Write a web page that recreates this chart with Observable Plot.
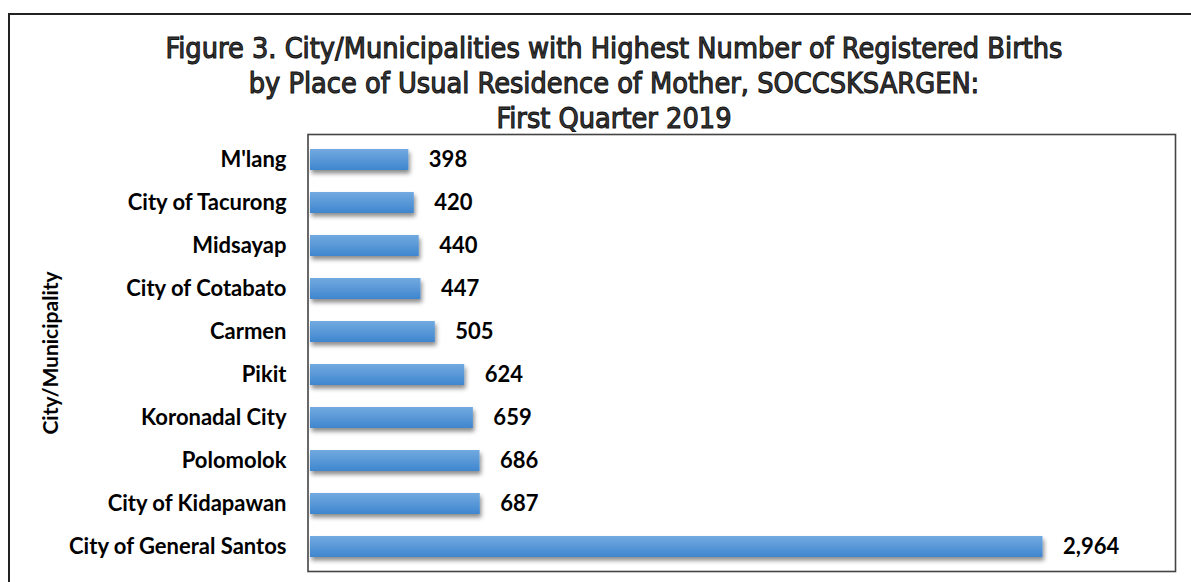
<!DOCTYPE html>
<html>
<head>
<meta charset="utf-8">
<script src="https://cdn.jsdelivr.net/npm/d3@7"></script>
<script src="https://cdn.jsdelivr.net/npm/@observablehq/plot@0.6"></script>
<style>
  html, body { margin: 0; padding: 0; background: #fff; overflow: hidden; }
  #wrap { position: relative; width: 1191px; height: 582px; overflow: hidden; background: #fff; }
  #outer { position: absolute; left: 8px; top: 13px; width: 1400px; height: 800px; border-left: 2px solid #222; border-top: 2px solid #222; box-sizing: border-box; }
  #title { position: relative; height: 128px; width: 1191px; box-sizing: border-box; padding-top: 31px; padding-left: 37px;
    font-family: "DejaVu Sans Condensed", "DejaVu Sans", sans-serif; font-size: 28.6px; line-height: 35px; text-align: center;
    color: #3a3a3a; -webkit-text-stroke: 1px #111; white-space: nowrap; }
  #chart { position: relative; }
</style>
</head>
<body>
<div id="wrap">
  <div id="outer"></div>
  <div id="title">Figure 3. City/Municipalities with Highest Number of Registered Births<br>by Place of Usual Residence of Mother, SOCCSKSARGEN:<br>First Quarter 2019</div>
  <div id="chart"></div>
</div>
<script>
const places = ["M'lang", "City of Tacurong", "Midsayap", "City of Cotabato", "Carmen", "Pikit", "Koronadal City", "Polomolok", "City of Kidapawan", "City of General Santos"];
const births = [398, 420, 440, 447, 505, 624, 659, 686, 687, 2964];
const yTitle = "City/Municipality";

const data = places.map((p, i) => ({place: p, births: births[i]}));
const fmt = d3.format(",");

const plot = Plot.plot({
  width: 1191,
  height: 454,
  marginLeft: 310,
  marginRight: 16,
  marginTop: 6,
  marginBottom: 11,
  style: {fontFamily: "Lato, sans-serif", fontSize: "22px", fontWeight: "bold", color: "#000", background: "transparent"},
  x: {domain: [0, 3500], axis: null},
  y: {domain: places, paddingInner: 0.52, paddingOuter: 0.26, label: null, tickSize: 0, tickPadding: 24},
  marks: [
    Plot.barX(data, {y: "place", x: "births", fill: "url(#barGrad)"}),
    Plot.text(data, {y: "place", x: "births", text: d => fmt(d.births), dx: 20, textAnchor: "start", fill: "#000", fontSize: 22, fontWeight: "bold"}),
    Plot.frame({stroke: "#444", strokeWidth: 1.6, insetLeft: -2.5}),
    Plot.text([yTitle], {frameAnchor: "left", dx: -259, rotate: -90, text: d => d, textAnchor: "middle", lineAnchor: "middle", fontSize: 21, fontWeight: "bold", fill: "#000"})
  ]
});

const svg = d3.select(plot);
const defs = svg.insert("defs", ":first-child");
const g = defs.append("linearGradient").attr("id", "barGrad").attr("x1", 0).attr("y1", 0).attr("x2", 0).attr("y2", 1);
g.append("stop").attr("offset", "0%").attr("stop-color", "#72aae0");
g.append("stop").attr("offset", "100%").attr("stop-color", "#3f86cf");
const f = defs.append("filter").attr("id", "barShadow").attr("x", "-5%").attr("y", "-30%").attr("width", "115%").attr("height", "190%");
f.append("feDropShadow").attr("dx", 1.5).attr("dy", 3.5).attr("stdDeviation", 2).attr("flood-color", "#000").attr("flood-opacity", 0.45);
svg.selectAll("g[aria-label='bar']").attr("filter", "url(#barShadow)");

document.getElementById("chart").appendChild(plot);
</script>
</body>
</html>
